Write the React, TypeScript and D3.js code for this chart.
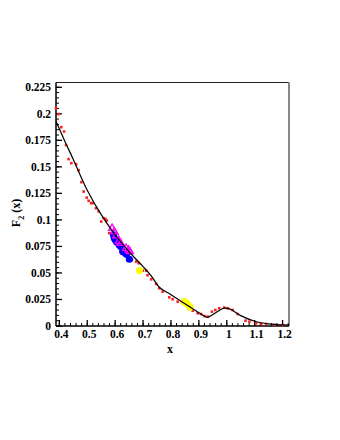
import React, { useEffect, useRef } from "react";
import * as d3 from "d3";

// theory curve
const curveX = [0.388, 0.42, 0.45, 0.5, 0.55, 0.6, 0.65, 0.7, 0.73, 0.76, 0.8, 0.85, 0.9, 0.93, 0.96, 0.99, 1.01, 1.05, 1.1, 1.15, 1.2, 1.222];
const curveY = [0.193, 0.174, 0.157, 0.128, 0.105, 0.086, 0.07, 0.056, 0.047, 0.036, 0.0295, 0.021, 0.0125, 0.0082, 0.0125, 0.0168, 0.0162, 0.0098, 0.0045, 0.002, 0.001, 0.0008];

// red data points
const redX = [0.388, 0.397, 0.407, 0.417, 0.424, 0.433, 0.443, 0.46, 0.469, 0.479, 0.487, 0.498, 0.505, 0.514, 0.519, 0.531, 0.541, 0.55, 0.559, 0.565, 0.57, 0.579, 0.615, 0.643, 0.66, 0.675, 0.684, 0.699, 0.711, 0.716, 0.729, 0.747, 0.758, 0.77, 0.794, 0.806, 0.824, 0.84, 0.865, 0.878, 0.896, 0.908, 0.92, 0.932, 0.947, 0.959, 0.973, 0.991, 1.003, 1.021, 1.039, 1.067, 1.081, 1.105, 1.123, 1.141, 1.171, 1.2];
const redY = [0.2054, 0.1997, 0.1874, 0.1833, 0.1705, 0.1573, 0.1535, 0.1525, 0.1469, 0.1356, 0.1267, 0.121, 0.118, 0.1158, 0.1158, 0.111, 0.108, 0.0984, 0.1016, 0.101, 0.0994, 0.0875, 0.0795, 0.0726, 0.0623, 0.0607, 0.0592, 0.0522, 0.0522, 0.0478, 0.044, 0.0396, 0.0356, 0.0324, 0.027, 0.0252, 0.0229, 0.022, 0.017, 0.0144, 0.012, 0.0113, 0.0094, 0.0088, 0.0135, 0.0151, 0.0167, 0.0173, 0.0167, 0.0151, 0.0113, 0.005, 0.004, 0.0025, 0.0019, 0.0019, 0.001, 0.0008];

// blue data points
const blueX = [0.594, 0.597, 0.601, 0.606, 0.615, 0.621, 0.627, 0.637, 0.641, 0.651];
const blueY = [0.0858, 0.0827, 0.0811, 0.079, 0.0764, 0.0748, 0.0701, 0.0686, 0.0676, 0.0629];

// magenta data points
const magX = [0.589, 0.597, 0.604, 0.613, 0.62, 0.639, 0.648, 0.653];
const magY = [0.0921, 0.089, 0.085, 0.0795, 0.078, 0.0733, 0.0717, 0.0701];

// yellow data points
const yelX = [0.687, 0.848, 0.855, 0.86, 0.868];
const yelY = [0.0522, 0.0229, 0.0215, 0.0205, 0.0176];

const xTicks = [0.4, 0.5, 0.6, 0.7, 0.8, 0.9, 1, 1.1, 1.2];
const yTicks = [0, 0.025, 0.05, 0.075, 0.1, 0.125, 0.15, 0.175, 0.2, 0.225];

const App = () => {
  const ref = useRef(null);

  useEffect(() => {
    const width = 340;
    const height = 440;
    const margin = { top: 82.5, right: 51, bottom: 114, left: 56 };
    const font = "'Liberation Serif', 'Times New Roman', serif";

    const svg = d3.select(ref.current);
    svg.selectAll("*").remove();
    svg.attr("width", width).attr("height", height);

    const x = d3
      .scaleLinear()
      .domain([0.388, 1.223])
      .range([margin.left, width - margin.right]);
    const y = d3
      .scaleLinear()
      .domain([0, 0.2295])
      .range([height - margin.bottom, margin.top]);

    const x0 = margin.left;
    const x1 = width - margin.right;
    const y0 = height - margin.bottom;
    const y1 = margin.top;

    // frame
    svg.append("line").attr("x1", x0).attr("x2", x1).attr("y1", y1).attr("y2", y1).attr("stroke", "#222").attr("stroke-width", 1.2);
    svg.append("line").attr("x1", x1).attr("x2", x1).attr("y1", y1).attr("y2", y0).attr("stroke", "#888").attr("stroke-width", 2);

    // y axis
    const yMinor = d3.range(0, 0.2295, 0.005);
    svg
      .append("g")
      .selectAll("line")
      .data(yMinor)
      .join("line")
      .attr("x1", x0)
      .attr("x2", x0 + 3)
      .attr("y1", (d) => y(d))
      .attr("y2", (d) => y(d))
      .attr("stroke", "#000");
    svg
      .append("g")
      .selectAll("line")
      .data(yTicks)
      .join("line")
      .attr("x1", x0)
      .attr("x2", x0 + 6)
      .attr("y1", (d) => y(d))
      .attr("y2", (d) => y(d))
      .attr("stroke", "#000")
      .attr("stroke-width", 1.3);
    svg
      .append("g")
      .selectAll("text")
      .data(yTicks)
      .join("text")
      .attr("x", x0 - 5)
      .attr("y", (d) => y(d) + 4)
      .attr("text-anchor", "end")
      .attr("font-family", font)
      .attr("font-weight", "bold")
      .attr("font-size", 11.5)
      .text((d) => String(d));

    // x axis
    const xMinor = d3.range(0.4, 1.221, 0.02);
    svg
      .append("g")
      .selectAll("line")
      .data(xMinor)
      .join("line")
      .attr("x1", (d) => x(d))
      .attr("x2", (d) => x(d))
      .attr("y1", y0)
      .attr("y2", y0 - 3)
      .attr("stroke", "#000");
    svg
      .append("g")
      .selectAll("line")
      .data(xTicks)
      .join("line")
      .attr("x1", (d) => x(d))
      .attr("x2", (d) => x(d))
      .attr("y1", y0)
      .attr("y2", y0 - 6)
      .attr("stroke", "#000")
      .attr("stroke-width", 1.3);
    svg
      .append("g")
      .selectAll("text")
      .data(xTicks)
      .join("text")
      .attr("x", (d) => x(d) + 2)
      .attr("y", y0 + 12)
      .attr("text-anchor", "middle")
      .attr("font-family", font)
      .attr("font-weight", "bold")
      .attr("font-size", 11.5)
      .text((d) => String(d));

    svg.append("line").attr("x1", x0).attr("x2", x1).attr("y1", y0).attr("y2", y0).attr("stroke", "#000").attr("stroke-width", 1.5);
    svg.append("line").attr("x1", x0).attr("x2", x0).attr("y1", y1).attr("y2", y0).attr("stroke", "#000").attr("stroke-width", 1.5);

    // titles
    svg
      .append("text")
      .attr("x", 170)
      .attr("y", 353)
      .attr("text-anchor", "middle")
      .attr("font-family", font)
      .attr("font-weight", "bold")
      .attr("font-size", 12)
      .text("x");
    const yt = svg
      .append("text")
      .attr("transform", "translate(20,213) rotate(-90)")
      .attr("text-anchor", "middle")
      .attr("font-family", font)
      .attr("font-weight", "bold")
      .attr("font-size", 12);
    yt.append("tspan").text("F");
    yt.append("tspan").attr("dy", 4).attr("font-size", 8).text("2");
    yt.append("tspan").attr("dy", -4).text(" (x)");

    // red points
    svg
      .append("g")
      .selectAll("rect")
      .data(redX.map((d, i) => [d, redY[i]]))
      .join("rect")
      .attr("x", (d) => x(d[0]) - 1.3)
      .attr("y", (d) => y(d[1]) - 1.3)
      .attr("width", 2.6)
      .attr("height", 2.6)
      .attr("fill", "#ff2020");

    // blue points
    svg
      .append("g")
      .selectAll("circle")
      .data(blueX.map((d, i) => [d, blueY[i]]))
      .join("circle")
      .attr("cx", (d) => x(d[0]))
      .attr("cy", (d) => y(d[1]))
      .attr("r", 3.6)
      .attr("fill", "#0000ff");

    // magenta points
    svg
      .append("g")
      .selectAll("path")
      .data(magX.map((d, i) => [d, magY[i]]))
      .join("path")
      .attr("transform", (d) => `translate(${x(d[0])},${y(d[1])})`)
      .attr("d", d3.symbol(d3.symbolTriangle, 22)())
      .attr("fill", "none")
      .attr("stroke", "#ff00ff")
      .attr("stroke-width", 1.3);

    // yellow points
    svg
      .append("g")
      .selectAll("circle")
      .data(yelX.map((d, i) => [d, yelY[i]]))
      .join("circle")
      .attr("cx", (d) => x(d[0]))
      .attr("cy", (d) => y(d[1]))
      .attr("r", 3.6)
      .attr("fill", "#ffff00");

    // theory curve
    const line = d3
      .line()
      .x((d) => x(d[0]))
      .y((d) => y(d[1]))
      .curve(d3.curveCatmullRom.alpha(0.5));
    svg
      .append("path")
      .datum(curveX.map((d, i) => [d, curveY[i]]))
      .attr("d", line)
      .attr("fill", "none")
      .attr("stroke", "#000")
      .attr("stroke-width", 1.2);
  }, []);

  return (
    <div style={{ position: "absolute", left: 0, top: 0 }}>
      <svg ref={ref}></svg>
    </div>
  );
};

export default App;
